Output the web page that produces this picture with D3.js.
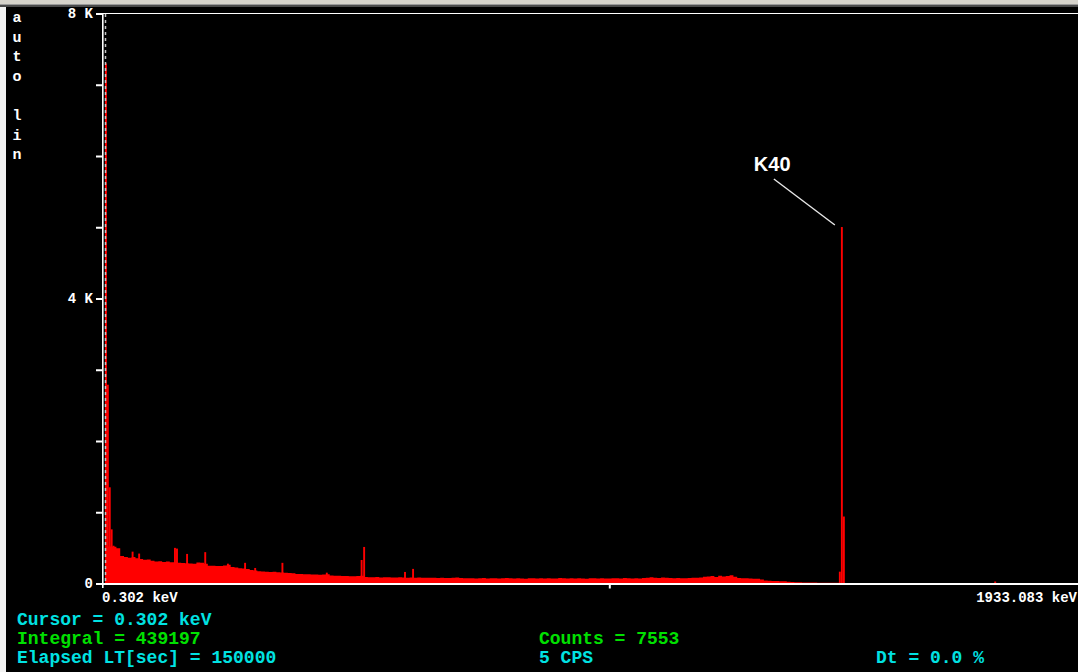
<!DOCTYPE html>
<html>
<head>
<meta charset="utf-8">
<script src="https://cdn.jsdelivr.net/npm/d3@7"></script>
<style>
  html, body { margin: 0; padding: 0; background: #000; overflow: hidden; }
  svg { display: block; }
  .mono { font-family: "Liberation Mono", "DejaVu Sans Mono", monospace; font-weight: bold; }
</style>
</head>
<body>
<svg id="chart" width="1078" height="672"></svg>
<script>
// Energy calibration of the MCA display (keV at first and last channel)
const energyRange = [0.302, 1933.083];
const channelCount = 512;

// Counts of the first few channels (low-energy noise edge)
const lowChannels = [7300, 2790, 1350, 760, 530];

// Background continuum, counts per 2-channel bin starting at the first channel
const continuum = [
  520, 520, 515, 495, 385, 372, 360, 372, 355, 345, 335, 338, 318, 308, 314, 302,
  310, 300, 300, 292, 288, 284, 280, 277, 296, 290, 276, 250, 248, 244, 246, 252,
  262, 232, 226, 214, 210, 205, 188, 184, 172, 168, 164, 160, 166, 158, 154, 150,
  146, 144, 134, 132, 130, 131, 127, 128, 124, 125, 130, 112, 110, 108, 105, 106,
  103, 101, 104, 110, 92, 88, 86, 90, 84, 86, 88, 83, 85, 87, 84, 82,
  84, 81, 83, 80, 82, 79, 81, 77, 79, 77, 76, 80, 84, 78, 74, 72,
  75, 70, 73, 76, 71, 74, 72, 69, 73, 77, 72, 70, 74, 71, 68, 73,
  75, 70, 72, 69, 74, 71, 70, 76, 72, 69, 73, 70, 74, 71, 68, 72,
  75, 70, 73, 71, 69, 74, 72, 70, 76, 73, 71, 74, 70, 78, 82, 86,
  80, 77, 84, 80, 76, 74, 78, 75, 72, 76, 79, 82, 85, 95, 98, 104,
  92, 110, 100, 106, 115, 96, 78, 74, 72, 70, 68, 65, 55, 42, 38, 36,
  34, 32, 30, 26, 22, 18, 16, 15, 14, 14, 13, 12, 12, 11, 11, 10, 10
];

// Photopeaks and single-channel spikes: energy (keV) and counts
const lineEnergies = [55, 68, 139, 143, 163, 199, 244, 278, 298, 352, 440, 509, 514, 595, 611, 1457, 1461, 1465, 1765];
const lineCounts   = [447, 420, 500, 490, 415, 440, 278, 290, 218, 290, 152, 330, 513, 162, 205, 166, 5003, 940, 28];

// Vertical axis ticks (counts) and their labels
const yTickValues = [0, 1000, 2000, 3000, 4000, 5000, 6000, 7000, 8000];
const yTickLabels = ["0", "", "", "", "4 K", "", "", "", "8 K"];
// Horizontal axis tick (keV)
const xTickValues = [1000];

// Status read-outs below the spectrum
const statusLeft  = [["Cursor = 0.302 keV", "#00e2e2"], ["Integral = 439197", "#00e000"], ["Elapsed LT[sec] = 150000", "#00e2e2"]];
const statusMid   = [["Counts = 7553", "#00e000"], ["5 CPS", "#00e2e2"]];
const statusRight = [["Dt = 0.0 %", "#00e2e2"]];
const scaleMode = ["a", "u", "t", "o", "", "l", "i", "n"];
const peakLabel = "K40";

const svg = d3.select("#chart");
const W = 1078, H = 672;
const keVPerChannel = (energyRange[1] - energyRange[0]) / channelCount;

const x = d3.scaleLinear().domain(energyRange).range([105, 1080]);
const y = d3.scaleLinear().domain([0, 8000]).range([583.5, 13.5]);

// window chrome
svg.append("rect").attr("x", 0).attr("y", 0).attr("width", W).attr("height", H).attr("fill", "#000");
svg.append("rect").attr("x", 0).attr("y", 0).attr("width", W).attr("height", 4).attr("fill", "#d6d3cb");
svg.append("rect").attr("x", 0).attr("y", 4).attr("width", W).attr("height", 1.5).attr("fill", "#9a9a9a");
svg.append("rect").attr("x", 0).attr("y", 5.5).attr("width", W).attr("height", 1.5).attr("fill", "#4a4a4a");
svg.append("rect").attr("x", 0).attr("y", 7).attr("width", 6).attr("height", H - 7).attr("fill", "#f2f2f2");

// continuum as a stepped area
const contData = continuum.map((c, j) => ({ e: energyRange[0] + j * 2 * keVPerChannel, c }));
contData.push({ e: energyRange[0] + continuum.length * 2 * keVPerChannel, c: 0 });
svg.append("path")
  .datum(contData)
  .attr("fill", "#ff0000")
  .attr("d", d3.area().x(d => x(d.e)).y0(y(0)).y1(d => y(d.c)).curve(d3.curveStepAfter));

// first channels
svg.append("g").selectAll("rect").data(lowChannels).join("rect")
  .attr("x", (c, i) => x(energyRange[0] + i * keVPerChannel))
  .attr("width", (c, i) => x(energyRange[0] + (i + 1) * keVPerChannel) - x(energyRange[0] + i * keVPerChannel))
  .attr("y", c => y(c))
  .attr("height", c => y(0) - y(c))
  .attr("fill", "#ff0000");

// peaks
const lineData = lineEnergies.map((e, i) => ({ e, c: lineCounts[i] }));
svg.append("g").selectAll("rect").data(lineData).join("rect")
  .attr("x", d => x(d.e - keVPerChannel / 2))
  .attr("width", d => x(d.e + keVPerChannel / 2) - x(d.e - keVPerChannel / 2))
  .attr("y", d => y(d.c))
  .attr("height", d => y(0) - y(d.c))
  .attr("fill", "#ff0000");

// cursor at the first channel
svg.append("line")
  .attr("x1", x(energyRange[0]) + 0.5).attr("x2", x(energyRange[0]) + 0.5)
  .attr("y1", 14).attr("y2", 583)
  .attr("stroke", "#c4c4c4").attr("stroke-width", 1.5).attr("stroke-dasharray", "3,3");

// frame: top border, left axis, baseline
svg.append("line").attr("x1", 102).attr("x2", W).attr("y1", 13.5).attr("y2", 13.5).attr("stroke", "#fff").attr("stroke-width", 1.2);
svg.append("line").attr("x1", 102.5).attr("x2", W).attr("y1", 584).attr("y2", 584).attr("stroke", "#fff").attr("stroke-width", 2);
svg.append("line").attr("x1", 102.8).attr("x2", 102.8).attr("y1", 13).attr("y2", 588).attr("stroke", "#fff").attr("stroke-width", 1.6);

// y axis ticks and labels
const yAxis = d3.axisLeft(y).tickValues(yTickValues).tickSize(6).tickPadding(3)
  .tickFormat((d, i) => yTickLabels[i]);
const gy = svg.append("g").attr("transform", "translate(102,0)").call(yAxis);
gy.select(".domain").remove();
gy.selectAll(".tick line").attr("stroke", "#fff").attr("stroke-width", 2);
gy.selectAll(".tick text").attr("class", "mono").attr("fill", "#fff").attr("font-size", 14);

// x axis tick
const xAxis = d3.axisBottom(x).tickValues(xTickValues).tickSize(3.5).tickFormat("");
const gx = svg.append("g").attr("transform", "translate(0,585)").call(xAxis);
gx.select(".domain").remove();
gx.selectAll(".tick line").attr("stroke", "#fff").attr("stroke-width", 2);

// energy range labels
svg.append("text").attr("class", "mono").attr("x", 102).attr("y", 602)
  .attr("fill", "#fff").attr("font-size", 14).text(energyRange[0].toFixed(3) + " keV");
svg.append("text").attr("class", "mono").attr("x", W - 1).attr("y", 602)
  .attr("text-anchor", "end").attr("fill", "#fff").attr("font-size", 14).text(energyRange[1].toFixed(3) + " keV");

// scale mode, written vertically
svg.append("g").selectAll("text").data(scaleMode).join("text")
  .attr("class", "mono")
  .attr("x", 17).attr("y", (d, i) => 22 + i * 19.6)
  .attr("text-anchor", "middle").attr("fill", "#fff").attr("font-size", 15)
  .text(d => d);

// status read-outs
svg.append("g").selectAll("text").data(statusLeft).join("text")
  .attr("class", "mono").attr("x", 17).attr("y", (d, i) => 625 + i * 19)
  .attr("fill", d => d[1]).attr("font-size", 18).text(d => d[0]);
svg.append("g").selectAll("text").data(statusMid).join("text")
  .attr("class", "mono").attr("x", 539).attr("y", (d, i) => 644 + i * 19)
  .attr("fill", d => d[1]).attr("font-size", 18).text(d => d[0]);
svg.append("g").selectAll("text").data(statusRight).join("text")
  .attr("class", "mono").attr("x", 876).attr("y", 663)
  .attr("fill", d => d[1]).attr("font-size", 18).text(d => d[0]);

// K40 annotation tied to the tallest peak
const kIdx = lineCounts.indexOf(d3.max(lineCounts));
const px = x(lineEnergies[kIdx]), py = y(lineCounts[kIdx]);
svg.append("line")
  .attr("x1", px - 68).attr("y1", py - 48)
  .attr("x2", px - 7).attr("y2", py - 2)
  .attr("stroke", "#e8e8e8").attr("stroke-width", 1.4);
svg.append("text")
  .attr("x", px - 88).attr("y", py - 56)
  .attr("font-family", "'Liberation Sans', Arial, sans-serif").attr("font-weight", "bold")
  .attr("font-size", 20).attr("fill", "#fff").text(peakLabel);
</script>
</body>
</html>
